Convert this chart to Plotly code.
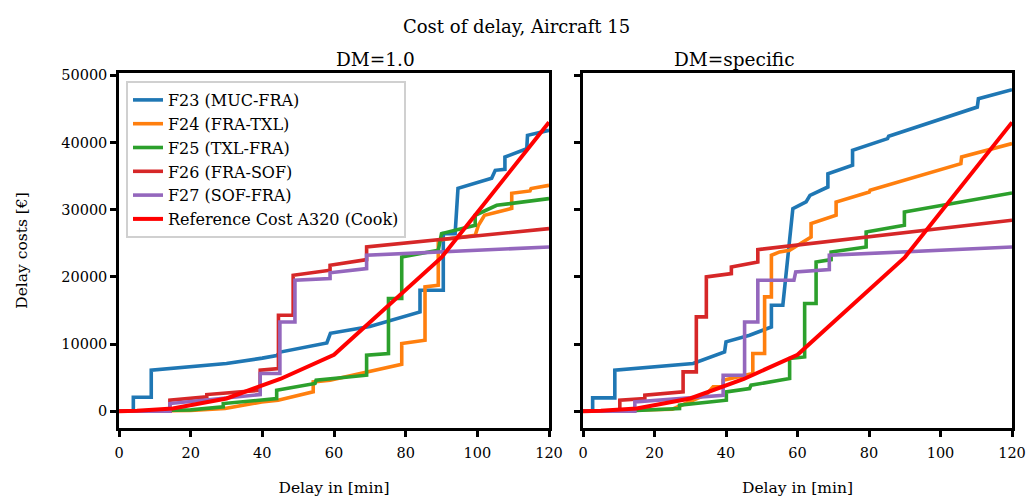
import plotly.graph_objects as go

# ---- data ----
names = ["F23 (MUC-FRA)", "F24 (FRA-TXL)", "F25 (TXL-FRA)", "F26 (FRA-SOF)", "F27 (SOF-FRA)"]
colors = ["#1f77b4", "#ff7f0e", "#2ca02c", "#d62728", "#9467bd"]

# left: DM=1.0
l_f23_x = [0, 4, 4, 9, 9, 20, 30, 40, 44, 45, 58, 59, 70, 84, 84, 90.5, 90.5, 93.8, 94.6, 104, 105, 107.7, 107.7, 113.8, 114, 120]
l_f23_y = [0, 0, 2080, 2080, 6100, 6600, 7100, 7900, 8300, 8800, 10160, 11600, 12600, 14780, 18000, 18000, 26440, 26440, 33180, 34670, 35860, 36000, 37840, 39090, 41070, 41820]
l_f24_x = [0, 20, 29.6, 35, 39.8, 44.4, 54.2, 54.2, 58.9, 78.9, 78.9, 85.4, 85.4, 89.1, 89.1, 99.4, 100.3, 102, 109.6, 109.6, 114.7, 115, 120]
l_f24_y = [0, 100, 400, 900, 1380, 1640, 2880, 4360, 4610, 7000, 10070, 10570, 18500, 18750, 25450, 26190, 27680, 29170, 30200, 32440, 32790, 33140, 33630]
l_f25_x = [0, 20, 29.1, 29.1, 44, 44, 54.7, 55, 69.1, 69.1, 75.2, 75.2, 78.9, 78.9, 89.1, 90, 99.4, 99.4, 105.4, 120]
l_f25_y = [0, 200, 640, 1140, 1880, 3120, 4120, 4610, 5360, 8330, 8580, 16770, 16770, 22960, 23960, 26440, 27680, 29170, 30650, 31650]
l_f26_x = [0, 14.2, 14.2, 24.5, 24.5, 39.4, 39.4, 44.5, 44.5, 48.6, 48.6, 58.9, 58.9, 69.1, 69.1, 120]
l_f26_y = [0, 0, 1640, 2130, 2480, 3120, 6100, 6350, 14290, 14290, 20240, 20980, 21730, 22570, 24450, 27190]
l_f27_x = [0, 14.2, 14.2, 39.4, 39.4, 44.9, 44.9, 49.1, 49.1, 58.9, 58.9, 69.1, 69.1, 120]
l_f27_y = [0, 0, 1140, 2480, 5610, 5610, 13290, 13290, 19490, 19740, 20600, 21230, 23210, 24450]

# right: DM=specific
r_f23_x = [0, 2.7, 2.7, 8.9, 8.9, 20, 30.8, 39.6, 40, 46.6, 52.7, 52.7, 55.9, 58.7, 62.4, 63.5, 68.5, 68.5, 75.4, 75.4, 85.2, 85.5, 110.3, 110.6, 120]
r_f23_y = [0, 0, 1990, 1990, 6100, 6600, 7100, 8830, 10320, 11310, 12550, 15770, 15770, 30160, 31150, 32140, 33380, 35360, 36610, 38840, 40580, 40920, 45280, 46530, 47870]
r_f24_x = [0, 25, 34.5, 36.4, 39.2, 39.2, 47.5, 47.5, 50.8, 50.8, 52.7, 52.7, 55, 57.8, 63.8, 63.8, 70.8, 70.8, 80.1, 80.3, 105.7, 105.9, 120]
r_f24_y = [0, 300, 2500, 3620, 3620, 4610, 5610, 8580, 8580, 17020, 17020, 23210, 23710, 23960, 25940, 27930, 29170, 31150, 32640, 32890, 36860, 37840, 39840]
r_f25_x = [0, 15, 27, 27, 40.1, 40.1, 46.6, 47, 55, 57.8, 57.8, 62, 62, 65.2, 65.2, 69.4, 69.4, 79.2, 79.2, 89.9, 89.9, 120]
r_f25_y = [0, 100, 400, 890, 1640, 2880, 3370, 3870, 4610, 4860, 7840, 8080, 16030, 16030, 22220, 22570, 23710, 24450, 26690, 27680, 29660, 32490]
r_f26_x = [0, 10.3, 10.3, 17.3, 17.3, 28, 28, 31.7, 31.7, 34.5, 34.5, 41.5, 41.5, 48.9, 48.9, 120]
r_f26_y = [0, 0, 1640, 1880, 2380, 2880, 5860, 5860, 14040, 14040, 19990, 20490, 21480, 22220, 24060, 28420]
r_f27_x = [0, 14.5, 14.5, 39.2, 39.2, 45.2, 45.2, 48.9, 48.9, 59, 59.5, 68.9, 68.9, 120]
r_f27_y = [0, 0, 1390, 2380, 5360, 5360, 13290, 13290, 19490, 19490, 20730, 21080, 23210, 24450]

# reference cost A320 (Cook)
ref_x = [0, 5, 15, 30, 45, 60, 90, 120]
ref_y = [0, 60, 400, 1900, 4800, 8400, 22900, 43000]

left = [(l_f23_x, l_f23_y), (l_f24_x, l_f24_y), (l_f25_x, l_f25_y), (l_f26_x, l_f26_y), (l_f27_x, l_f27_y)]
right = [(r_f23_x, r_f23_y), (r_f24_x, r_f24_y), (r_f25_x, r_f25_y), (r_f26_x, r_f26_y), (r_f27_x, r_f27_y)]

FONT = "DejaVu Serif"
LW = 3.6

fig = go.Figure()
for i in range(5):
    fig.add_trace(go.Scatter(x=left[i][0], y=left[i][1], mode="lines", name=names[i],
                             line=dict(color=colors[i], width=LW), legendgroup="g%d" % i,
                             xaxis="x", yaxis="y"))
fig.add_trace(go.Scatter(x=ref_x, y=ref_y, mode="lines", name="Reference Cost A320 (Cook)",
                         line=dict(color="#ff0000", width=LW + 0.4), legendgroup="g5",
                         xaxis="x", yaxis="y"))
for i in range(5):
    fig.add_trace(go.Scatter(x=right[i][0], y=right[i][1], mode="lines", name=names[i],
                             line=dict(color=colors[i], width=LW), showlegend=False,
                             xaxis="x2", yaxis="y2"))
fig.add_trace(go.Scatter(x=ref_x, y=ref_y, mode="lines", name="Reference Cost A320 (Cook)",
                         line=dict(color="#ff0000", width=LW + 0.4), showlegend=False,
                         xaxis="x2", yaxis="y2"))

W, H = 1032, 500
ax_common = dict(showline=True, linecolor="black", linewidth=2.5, mirror=True,
                 ticks="outside", ticklen=6, tickwidth=2.5, tickcolor="black",
                 showgrid=False, zeroline=False, automargin=False,
                 tickfont=dict(family=FONT, size=14.5, color="black"))
xaxis = dict(ax_common, range=[0, 120], tickvals=[0, 20, 40, 60, 80, 100, 120], ticklabelstandoff=4,
             title=dict(text="Delay in [min]", font=dict(family=FONT, size=15.5, color="black"), standoff=22))
yrange = [-2500, 50350]
yticks = [0, 10000, 20000, 30000, 40000, 50000]

fig.update_layout(
    width=W, height=H,
    margin=dict(l=0, r=0, t=0, b=0),
    plot_bgcolor="white", paper_bgcolor="white",
    font=dict(family=FONT, color="black"),
    xaxis=dict(xaxis, domain=[119 / W, 549 / W], anchor="y"),
    xaxis2=dict(xaxis, domain=[583 / W, 1012 / W], anchor="y2"),
    yaxis=dict(ax_common, range=yrange, tickvals=yticks, tickformat="d",
               domain=[1 - 428 / H, 1 - 73 / H], anchor="x",
               title=dict(text="Delay costs [€]", font=dict(family=FONT, size=15.5, color="black"), standoff=30)),
    yaxis2=dict(ax_common, range=yrange, tickvals=yticks, showticklabels=False,
                domain=[1 - 428 / H, 1 - 73 / H], anchor="x2"),
    legend=dict(x=126 / W, y=1 - 81 / H, xanchor="left", yanchor="top",
                bgcolor="rgba(255,255,255,0.85)", bordercolor="#d0d0d0", borderwidth=2,
                font=dict(family=FONT, size=16, color="black"), tracegroupgap=0,
                itemwidth=30),
    annotations=[
        dict(text="Cost of delay, Aircraft 15", x=0.5, y=1 - 14 / H, xref="paper", yref="paper",
             showarrow=False, font=dict(family=FONT, size=18, color="black")),
        dict(text="DM=1.0", x=334 / W, y=1 - 47 / H, xref="paper", yref="paper",
             showarrow=False, font=dict(family=FONT, size=18.5, color="black")),
        dict(text="DM=specific", x=797 / W, y=1 - 47 / H, xref="paper", yref="paper",
             showarrow=False, font=dict(family=FONT, size=18.5, color="black")),
    ],
)

# drop the default page margin so the figure sits at the window origin
fig.write_html("out.html", config={"displayModeBar": False},
               post_script="document.body.style.margin='0px';")
